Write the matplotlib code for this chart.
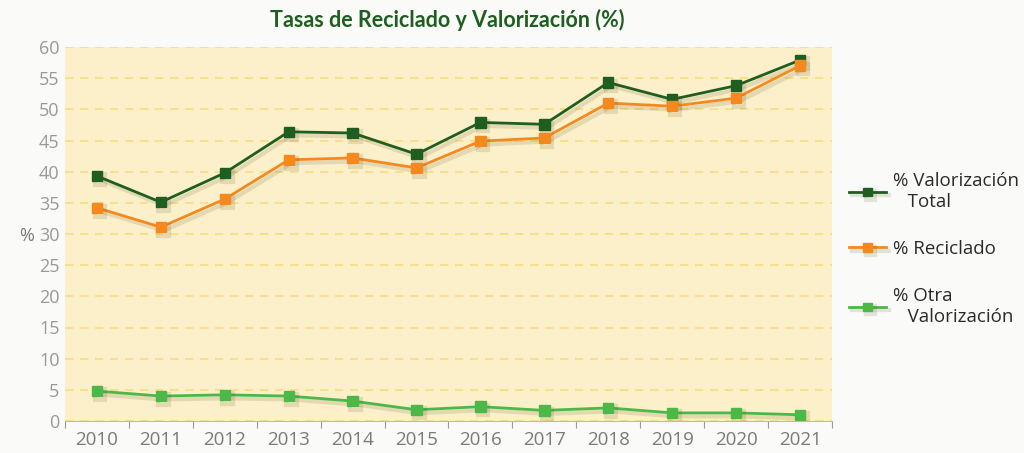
import numpy as np
import matplotlib.pyplot as plt
import matplotlib.patheffects as pe

years = ['2010', '2011', '2012', '2013', '2014', '2015', '2016', '2017', '2018', '2019', '2020', '2021']
valorizacion_total = [39.3, 35.1, 39.8, 46.4, 46.2, 42.8, 47.9, 47.6, 54.3, 51.6, 53.8, 57.9]
reciclado = [34.2, 31.1, 35.6, 41.9, 42.2, 40.6, 44.9, 45.4, 51.0, 50.5, 51.8, 57.0]
otra_valorizacion = [4.8, 4.0, 4.2, 4.0, 3.2, 1.8, 2.3, 1.7, 2.1, 1.3, 1.3, 1.0]

labels = ['% Valorización\n   Total', '% Reciclado', '% Otra\n   Valorización']
colors = ['#1E5E20', '#F5891F', '#4CB848']

plt.rcParams['font.family'] = ['Open Sans', 'DejaVu Sans']

fig = plt.figure(figsize=(10.24, 4.53), dpi=100)
fig.patch.set_facecolor('#FAFBF8')
ax = fig.add_axes([65 / 1024, 32 / 453, 767 / 1024, 374 / 453])
ax.set_facecolor('#FBF0C9')

x = np.arange(len(years))
shadow = [pe.SimpleLineShadow(offset=(2, -2.5), alpha=0.13, shadow_color='#4a3a10', linewidth=3), pe.Normal()]
for series, lab, c in zip([valorizacion_total, reciclado, otra_valorizacion], labels, colors):
    ax.plot(x, series, color=c, lw=2, marker='s', ms=7.5, label=lab, path_effects=shadow, zorder=3)

ax.set_xlim(-0.5, len(years) - 0.5)
ax.set_ylim(0, 60)
ax.set_yticks(np.arange(0, 61, 5))
ax.yaxis.grid(True, color='#F8DC80', ls=(0, (5, 4)), lw=1.2)
ax.set_axisbelow(True)

# ticks at category boundaries, labels at centres
ax.set_xticks(np.arange(-0.5, len(years), 1))
ax.set_xticklabels([])
ax.set_xticks(x, minor=True)
ax.set_xticklabels(years, minor=True)
ax.tick_params(axis='x', which='major', length=5, color='#999999', direction='out')
ax.tick_params(axis='x', which='minor', length=0, pad=7, labelsize=13.5, labelcolor='#7a7a7a')
ax.tick_params(axis='y', length=0, labelsize=13, labelcolor='#999999', pad=4)

for s in ['top', 'right', 'left']:
    ax.spines[s].set_visible(False)
ax.spines['bottom'].set_color('#bbbbbb')

ax.set_ylabel('%', rotation=0, fontsize=13, color='#7a7a7a')
ax.yaxis.set_label_coords(-0.05, 0.47)

fig.text(0.437, 0.955, 'Tasas de Reciclado y Valorización (%)', ha='center', va='center',
         fontsize=15.5, fontweight='bold', color='#1E5E20', family='Lato')

ax.legend(loc='center left', bbox_to_anchor=(1.0, 0.46), frameon=False, fontsize=13.5,
          labelspacing=1.55, handlelength=2.0, handletextpad=0.35, markerscale=0.8,
          labelcolor='#2a2a2a')

fig.savefig('out.png', dpi=100, facecolor=fig.get_facecolor())
